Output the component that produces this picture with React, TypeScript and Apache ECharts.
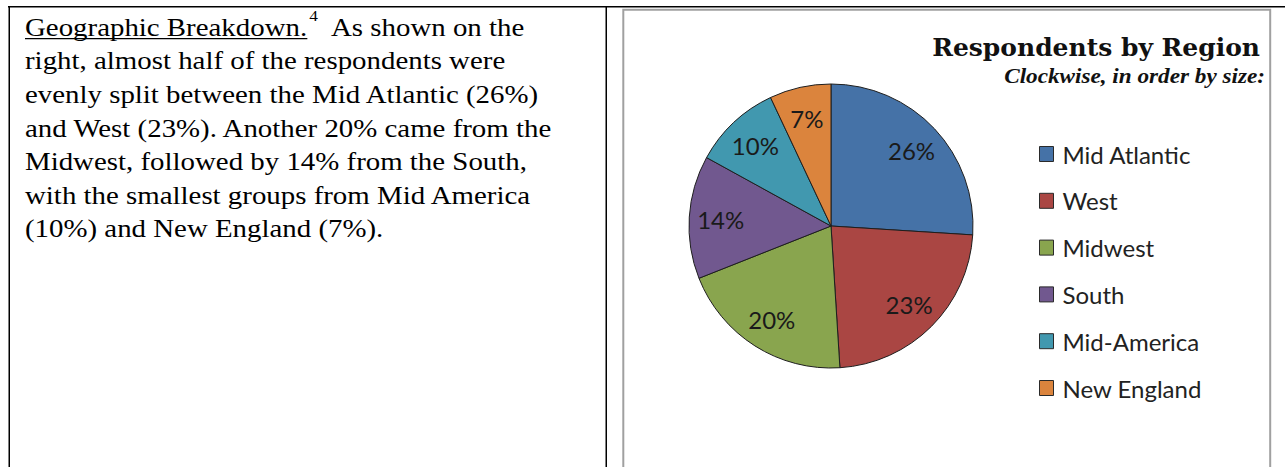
import React, { useEffect, useRef } from "react";
import * as echarts from "echarts";

const regions = ["Mid Atlantic", "West", "Midwest", "South", "Mid-America", "New England"];
const shares = [26, 23, 20, 14, 10, 7];
const sliceColors = ["#4572A7", "#AA4643", "#89A54E", "#71588F", "#4198AF", "#DB843D"];

const chartTitle = "Respondents by Region";
const chartSubtitle = "Clockwise, in order by size:";

const headingText = "Geographic Breakdown.";
const footnoteMark = "4";
const firstLineRest = "As shown on the";
const paragraphLines = [
  "right, almost half of the respondents were",
  "evenly split between the Mid Atlantic (26%)",
  "and West (23%). Another 20% came from the",
  "Midwest, followed by 14% from the South,",
  "with the smallest groups from Mid America",
  "(10%) and New England (7%).",
];

const SERIF = '"Liberation Serif", "Times New Roman", serif';
const TITLE_SERIF = '"DejaVu Serif", serif';
const SANS = 'Lato, "Open Sans", sans-serif';

function measure(text: string, font: string): number {
  const c = document.createElement("canvas");
  const ctx = c.getContext("2d");
  if (!ctx) return text.length * 10;
  ctx.font = font;
  return ctx.measureText(text).width;
}

function txt(text: string, x: number, y: number, scaleX: number, size: number, family: string,
  opts: { weight?: string; style?: string; align?: string; fill?: string } = {}) {
  return {
    type: "text",
    silent: true,
    x,
    y,
    scaleX,
    style: {
      text,
      fontSize: size,
      fontFamily: family,
      fontWeight: opts.weight || "normal",
      fontStyle: opts.style || "normal",
      fill: opts.fill || "#000",
      align: opts.align || "left",
      verticalAlign: "middle",
    },
  };
}

export default function App() {
  const ref = useRef<HTMLDivElement>(null);

  useEffect(() => {
    if (!ref.current) return;
    document.body.style.margin = "0";
    const chart = echarts.init(ref.current, undefined, { renderer: "svg" });

    // paragraph text metrics
    const pfs = 25;
    const pFont = `${pfs}px ${SERIF}`;
    const kP = 515 / measure(paragraphLines[1], pFont);
    const x0 = 25;
    const base0 = 35.5;
    const gap = 33.6;
    const mid = (b: number) => b - 0.32 * pfs;

    const headW = measure(headingText, pFont) * kP;
    const supFont = `15px ${SERIF}`;
    const supW = measure(footnoteMark, supFont) * kP;
    const restX = x0 + headW + supW + 2 + 13;

    const graphics: any[] = [
      // table borders
      { type: "rect", silent: true, shape: { x: 8, y: 6, width: 1277, height: 1.5 }, style: { fill: "#000" } },
      { type: "rect", silent: true, shape: { x: 8.5, y: 6, width: 1.5, height: 461 }, style: { fill: "#000" } },
      { type: "rect", silent: true, shape: { x: 605.5, y: 6, width: 1.5, height: 461 }, style: { fill: "#000" } },
      // chart frame
      {
        type: "rect", silent: true, z: -1,
        shape: { x: 623.3, y: 9.7, width: 646.9, height: 520 },
        style: { fill: "#fff", stroke: "#a0a0a0", lineWidth: 2 },
      },
      // first paragraph line
      txt(headingText, x0, mid(base0), kP, pfs, SERIF),
      {
        type: "rect", silent: true,
        shape: { x: x0, y: base0 + 2.5, width: headW, height: 1.3 },
        style: { fill: "#000" },
      },
      txt(footnoteMark, x0 + headW + 2, 16.5, kP, 15, SERIF),
      txt(firstLineRest, restX, mid(base0), kP, pfs, SERIF),
      ...paragraphLines.map((t, i) => txt(t, x0, mid(base0 + gap * (i + 1)), kP, pfs, SERIF)),
    ];

    const tSize = 24;
    const kT = 328 / measure(chartTitle, `bold ${tSize}px ${TITLE_SERIF}`);
    const sSize = 21;
    const kS = 261 / measure(chartSubtitle, `italic bold ${sSize}px ${SERIF}`);
    graphics.push(
      txt(chartTitle, 1260, 55 - 0.3 * tSize, kT, tSize, TITLE_SERIF, { weight: "bold", align: "right", fill: "#111" }),
      txt(chartSubtitle, 1265, 83 - 0.32 * sSize, kS, sSize, SERIF, { weight: "bold", style: "italic", align: "right", fill: "#111" })
    );

    const pieData = regions.map((name, i) => ({
      name,
      value: shares[i],
      itemStyle: { color: sliceColors[i] },
    }));

    chart.setOption({
      animation: false,
      backgroundColor: "#fff",
      graphic: { elements: graphics },
      legend: {
        orient: "vertical",
        left: 1039,
        top: 142,
        padding: 0,
        itemWidth: 14,
        itemHeight: 15,
        itemGap: 22.8,
        icon: "rect",
        selectedMode: false,
        data: regions,
        itemStyle: { borderColor: "#2a2a2a", borderWidth: 1 },
        textStyle: { fontFamily: SANS, fontSize: 24, lineHeight: 24, color: "#222", padding: [0, 0, 0, 4] },
      },
      series: [
        {
          type: "pie",
          center: [831, 226],
          radius: 142,
          startAngle: 90,
          clockwise: true,
          silent: true,
          data: pieData,
          itemStyle: { borderColor: "#1e1e1e", borderWidth: 1 },
          label: { show: false },
          labelLine: { show: false },
        },
        {
          type: "pie",
          center: [831, 226],
          radius: [73, 142],
          startAngle: 90,
          clockwise: true,
          silent: true,
          data: regions.map((name, i) => ({ name, value: shares[i] })),
          itemStyle: { color: "rgba(0,0,0,0)", borderWidth: 0 },
          label: {
            show: true,
            position: "inside",
            formatter: "{c}%",
            fontFamily: SANS,
            fontSize: 24,
            color: "#1a1a1a",
          },
          labelLine: { show: false },
        },
      ],
    });

    return () => chart.dispose();
  }, []);

  return (
    <div
      ref={ref}
      style={{ position: "absolute", left: 0, top: 0, width: 1285, height: 467 }}
    />
  );
}
